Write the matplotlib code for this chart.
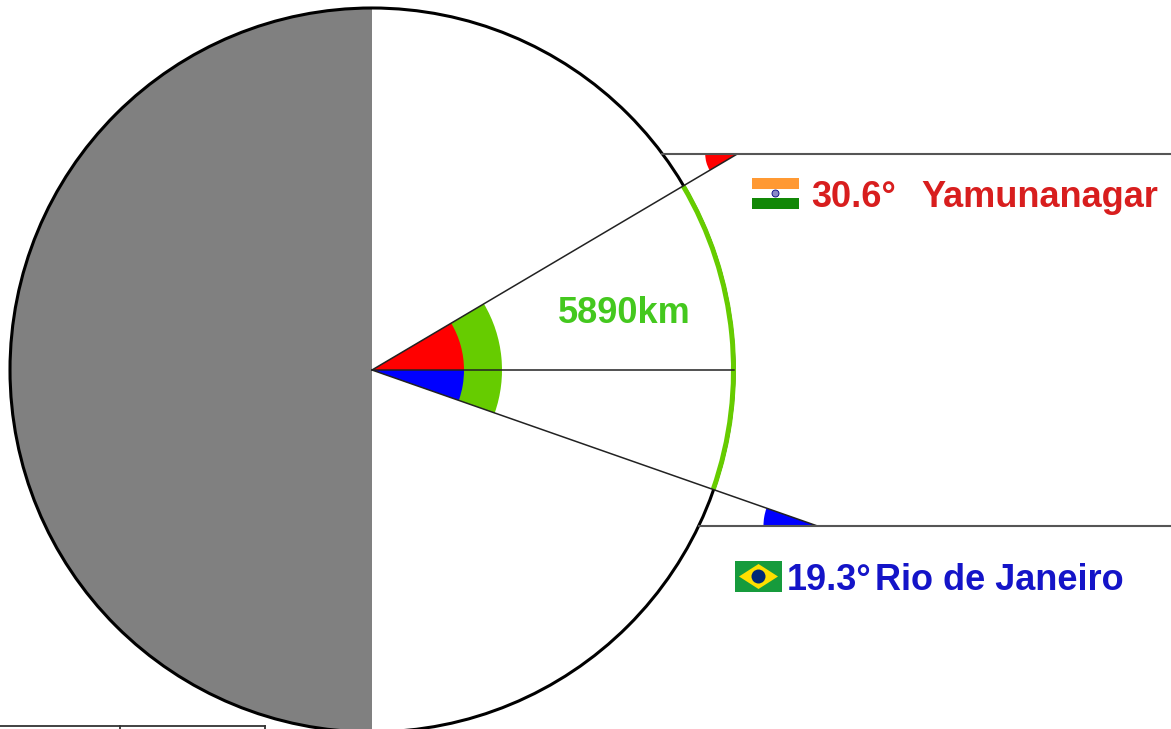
import numpy as np
import matplotlib
matplotlib.use('Agg')
import matplotlib.pyplot as plt
from matplotlib.patches import Circle, Wedge, Rectangle, Polygon

# values
angles = [30.6, 19.3]
places = ['Yamunanagar', 'Rio de Janeiro']
colours = ['#ff0000', '#0000ff']
text_colours = ['#d81e1e', '#1414c8']
distance = '5890km'

# one unit = one pixel
cx, cy = 372, 370
R = 362
ray_y = [154, 526]
small_r = [32, 54]
green = '#66cc00'

plt.rcParams['font.family'] = ['Liberation Sans', 'DejaVu Sans']
fig = plt.figure(figsize=(11.71, 7.29), dpi=100)
ax = fig.add_axes([0, 0, 1, 1])
ax.set_xlim(0, 1171)
ax.set_ylim(729, 0)
ax.axis('off')

# globe, y axis is flipped so angles go negative upwards
ax.add_patch(Wedge((cx, cy), R, 90, 270, fc='#808080', ec='none', zorder=1))
ax.add_patch(Circle((cx, cy), R, fc='none', ec='black', lw=2.2, zorder=4))

# centre wedges
a_n, a_s = angles
ax.add_patch(Wedge((cx, cy), 130, -a_n, a_s, fc=green, ec='none', zorder=2))
ax.add_patch(Wedge((cx, cy), 92, -a_n, 0, fc=colours[0], ec='none', zorder=3))
ax.add_patch(Wedge((cx, cy), 92, 0, a_s, fc=colours[1], ec='none', zorder=3))

# green arc on the surface
ax.add_patch(Wedge((cx, cy), R + 2, -a_n, a_s, width=5, fc=green, ec='none', zorder=5))

# rays and horizontals
ax.plot([cx, cx + R], [cy, cy], color='#222222', lw=1.1, zorder=6)
for a, y, r, col in zip([-a_n, a_s], ray_y, small_r, colours):
    dy = y - cy
    x_end = cx + dy / np.tan(np.radians(a))
    x_start = cx + np.sqrt(R**2 - dy**2)
    ax.plot([cx, x_end], [cy, y], color='#222222', lw=1.1, zorder=6)
    ax.plot([x_start, 1171], [y, y], color='#555555', lw=1.5, zorder=6)
    # small angle marker at the far end of the ray
    if a < 0:
        ax.add_patch(Wedge((x_end, y), r, 180 + a, 180, fc=col, ec='none', zorder=5))
    else:
        ax.add_patch(Wedge((x_end, y), r, 180, 180 + a, fc=col, ec='none', zorder=5))

# India flag
ax.add_patch(Rectangle((752, 178), 47, 11, fc='#ff9933', ec='none'))
ax.add_patch(Rectangle((752, 198), 47, 11, fc='#128807', ec='none'))
ax.add_patch(Circle((775.5, 193.5), 3.5, fc='#8a8ac8', ec='#000080', lw=0.6))

# Brazil flag
ax.add_patch(Rectangle((735, 561), 47, 31, fc='#169b3c', ec='none'))
ax.add_patch(Polygon([(739, 576.5), (758.5, 564), (778, 576.5), (758.5, 589)], fc='#fedf00', ec='none'))
ax.add_patch(Circle((758.5, 576.5), 7, fc='#002776', ec='none'))

# labels
ax.text(811, 197, '%.1f°' % angles[0], color=text_colours[0], fontsize=26,
        fontweight='bold', va='center', ha='left')
ax.text(921, 197, places[0], color=text_colours[0], fontsize=26,
        fontweight='bold', va='center', ha='left')
ax.text(787, 581, '%.1f°' % angles[1], color=text_colours[1], fontsize=26,
        fontweight='bold', va='center', ha='left')
ax.text(875, 581, places[1], color=text_colours[1], fontsize=26,
        fontweight='bold', va='center', ha='left')
ax.text(624, 313, distance, color='#44c81e', fontsize=26,
        fontweight='bold', va='center', ha='center')

# edge of the table cut off at the bottom left
ax.plot([0, 265], [726, 726], color='#333333', lw=1.3)
ax.plot([120, 120], [726, 729], color='#333333', lw=1.3)
ax.plot([265, 265], [726, 729], color='#333333', lw=1.3)

fig.savefig('out.png', dpi=100)
